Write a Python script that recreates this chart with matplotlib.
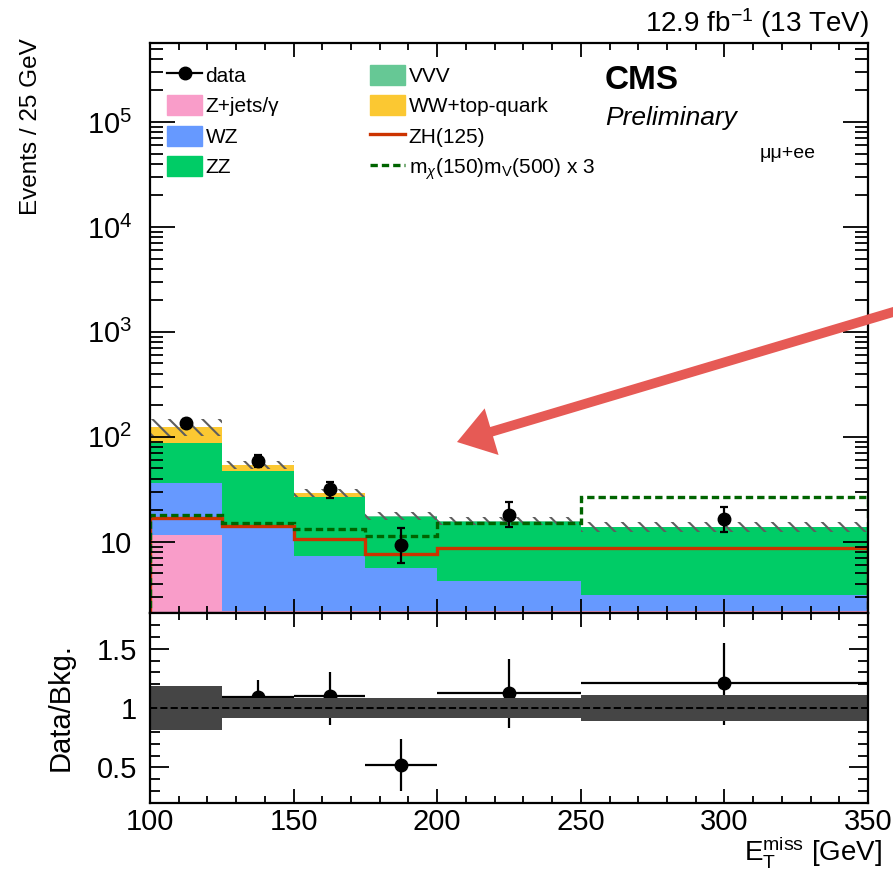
import matplotlib
matplotlib.use("Agg")
import matplotlib.pyplot as plt
import numpy as np
from matplotlib.lines import Line2D
from matplotlib.patches import Patch, FancyArrowPatch, ArrowStyle
from matplotlib.ticker import MultipleLocator, LogLocator, FuncFormatter, NullFormatter

plt.rcParams["font.family"] = ["Liberation Sans", "DejaVu Sans"]
plt.rcParams["mathtext.fontset"] = "custom"
plt.rcParams["mathtext.rm"] = "Liberation Sans"
plt.rcParams["mathtext.it"] = "Liberation Sans:italic"
plt.rcParams["mathtext.bf"] = "Liberation Sans:bold"
plt.rcParams["hatch.linewidth"] = 1.5

# --- binning (GeV) and stacked background yields (events / 25 GeV) ---
bin_edges = [100, 125, 150, 175, 200, 250, 350]
zjets = [11.7, 2.2, 2.2, 2.2, 2.2, 2.2]
wz = [24.5, 11.3, 5.05, 3.4, 2.05, 0.93]
zz = [50.8, 33.3, 19.45, 11.8, 11.35, 10.57]
vvv = [0.3, 0.2, 0.15, 0.1, 0.1, 0.1]
ww_top = [37.7, 7.0, 2.25, 0.1, 0.0, 0.0]
bkg_unc = [0.185, 0.088, 0.088, 0.088, 0.088, 0.11]   # relative, hatched band

# --- signal overlays ---
zh125 = [16.8, 14.2, 10.6, 7.7, 8.83, 8.83]
dm_signal = [18.1, 15.0, 13.2, 11.4, 15.0, 26.7]

# --- data ---
data_x = [112.5, 137.5, 162.5, 187.5, 225, 300]
data_y = [137, 59.5, 31.8, 9.36, 18.1, 16.5]
data_lo = [11, 7.5, 5.5, 3.1, 4.1, 4.2]
data_hi = [11, 7.5, 5.0, 4.1, 6.1, 4.8]

# --- ratio panel (the uncertainty band sits on top of the points) ---
ratio = [1.096, 1.095, 1.10, 0.52, 1.13, 1.21]
ratio_lo = [0.09, 0.12, 0.24, 0.22, 0.30, 0.35]
ratio_hi = [0.09, 0.145, 0.20, 0.22, 0.28, 0.34]

C_ZJETS = "#f99dc9"
C_WZ = "#6699ff"
C_ZZ = "#00cc66"
C_VVV = "#66c895"
C_WWTOP = "#fbc832"
C_ZH = "#cc3300"
C_DM = "#006400"

W, H = 893, 872
fig = plt.figure(figsize=(W / 100, H / 100), dpi=100)
ax1 = fig.add_axes([150 / W, (H - 613) / H, 718 / W, 570 / H])
ax2 = fig.add_axes([150 / W, (H - 803) / H, 718 / W, 190 / H])

edges = np.array(bin_edges, dtype=float)

# ---- stacked backgrounds ----
base = np.full(len(zjets), 1e-2)
for vals, col in [(zjets, C_ZJETS), (wz, C_WZ), (zz, C_ZZ), (vvv, C_VVV), (ww_top, C_WWTOP)]:
    top = base + np.array(vals)
    ax1.stairs(top, edges, baseline=base, fill=True, color=col, lw=0)
    base = top
total = base

unc = np.array(bkg_unc)
ax1.stairs(total * (1 + unc), edges, baseline=total * (1 - unc), fill=True,
           facecolor="none", edgecolor="#5e5e5e", hatch="\\\\", lw=0)

# ---- signals ----
ax1.stairs(zh125, edges, baseline=1e-2, color=C_ZH, lw=2.4)
ax1.stairs(dm_signal, edges, baseline=1e-2, color=C_DM, lw=2.4, ls=(0, (2.2, 1.2)))

# ---- data ----
ax1.errorbar(data_x, data_y, yerr=[data_lo, data_hi], fmt="o", color="black",
             ms=9, elinewidth=1.6, capsize=3, capthick=1.6, zorder=5)

ax1.set_xlim(100, 350)
ax1.set_yscale("log")
ax1.set_ylim(2.1, 5.65e5)


def _logfmt(v, _):
    e = int(round(np.log10(v)))
    return "10" if e == 1 else rf"$10^{{{e}}}$"


ax1.yaxis.set_major_locator(LogLocator(base=10))
ax1.yaxis.set_minor_locator(LogLocator(base=10, subs=np.arange(2, 10)))
ax1.yaxis.set_major_formatter(FuncFormatter(_logfmt))
ax1.yaxis.set_minor_formatter(NullFormatter())

for ax in (ax1, ax2):
    ax.xaxis.set_major_locator(MultipleLocator(50))
    ax.xaxis.set_minor_locator(MultipleLocator(10))
    ax.tick_params(which="both", direction="in", top=True, right=True, width=1.3)
    ax.tick_params(axis="x", which="major", length=10)
    ax.tick_params(axis="x", which="minor", length=5)
    for s in ax.spines.values():
        s.set_linewidth(1.6)
        s.set_zorder(20)

ax1.tick_params(axis="y", which="major", length=18, labelsize=21, pad=13)
ax1.tick_params(axis="y", which="minor", length=9.5)
ax1.tick_params(labelbottom=False)

# ---- legend (two columns) ----
h_data = Line2D([0], [0], color="black", marker="o", ms=9, lw=1.6)
col1 = [h_data, Patch(color=C_ZJETS), Patch(color=C_WZ), Patch(color=C_ZZ)]
lab1 = ["data", "Z+jets/γ", "WZ", "ZZ"]
col2 = [Patch(color=C_VVV), Patch(color=C_WWTOP), Line2D([0], [0], color=C_ZH, lw=2.4),
        Line2D([0], [0], color=C_DM, lw=2.4, ls=(0, (2.2, 1.2)))]
lab2 = ["VVV", "WW+top-quark", "ZH(125)", r"m$_{\chi}$(150)m$_{\rm V}$(500) x 3"]
leg_kw = dict(loc="upper left", frameon=False, fontsize=15, handlelength=1.7,
              handleheight=1.1, handletextpad=0.15, labelspacing=0.45,
              borderpad=0, borderaxespad=0)
leg1 = ax1.legend(col1, lab1, bbox_to_anchor=(17 / 718, 0.962), **leg_kw)
ax1.add_artist(leg1)
ax1.legend(col2, lab2, bbox_to_anchor=(220 / 718, 0.962), **leg_kw)

# ---- ratio panel ----
half_w = np.diff(edges) / 2
ax2.errorbar(data_x, ratio, xerr=half_w, yerr=[ratio_lo, ratio_hi], fmt="o",
             color="black", ms=9, elinewidth=1.6, capsize=0, zorder=2)
ax2.stairs(1 + unc, edges, baseline=1 - unc, fill=True, color="#454545", lw=0, zorder=3)
ax2.axhline(1, color="black", ls="--", lw=1.4, zorder=4)
ax2.set_xlim(100, 350)
ax2.set_ylim(0.2, 1.8)
ax2.yaxis.set_major_locator(MultipleLocator(0.5))
ax2.yaxis.set_minor_locator(MultipleLocator(0.1))
ax2.yaxis.set_major_formatter(FuncFormatter(lambda v, _: f"{v:g}"))
ax2.tick_params(axis="y", which="major", length=14, labelsize=21, pad=9.5)
ax2.tick_params(axis="y", which="minor", length=7)
ax2.tick_params(axis="x", which="major", labelsize=21, pad=3.5)

# ---- texts ----
fig.text(869 / W, 1 - 23 / H, r"12.9 fb$^{-1}$ (13 TeV)", ha="right", va="center", fontsize=20)
fig.text(605 / W, 1 - 89 / H, "CMS", fontweight="bold", fontsize=24, va="baseline")
fig.text(605 / W, 1 - 125 / H, "Preliminary", style="italic", fontsize=19, va="baseline")
fig.text(760 / W, 1 - 158 / H, "μμ+ee", fontsize=14, va="baseline")
fig.text(31 / W, 1 - 38 / H, "Events / 25 GeV", rotation=90, ha="center", va="top", fontsize=17.5)
fig.text(61 / W, 1 - 707 / H, "Data/Bkg.", rotation=90, ha="center", va="center", fontsize=21)
fig.text(882 / W, 1 - 852 / H, r"$\mathrm{E}_{\mathrm{T}}^{\mathrm{miss}}$ [GeV]",
         ha="right", va="center", fontsize=20)

# ---- red annotation arrow ----
arrow = FancyArrowPatch((910 / W, 1 - 307 / H), (457 / W, 1 - 442 / H),
                        transform=fig.transFigure,
                        arrowstyle=ArrowStyle.Simple(head_length=26, head_width=35, tail_width=7),
                        mutation_scale=1, shrinkA=0, shrinkB=0,
                        color="#e65a55", lw=0, zorder=10)
fig.add_artist(arrow)

fig.savefig("out.png", dpi=100)
